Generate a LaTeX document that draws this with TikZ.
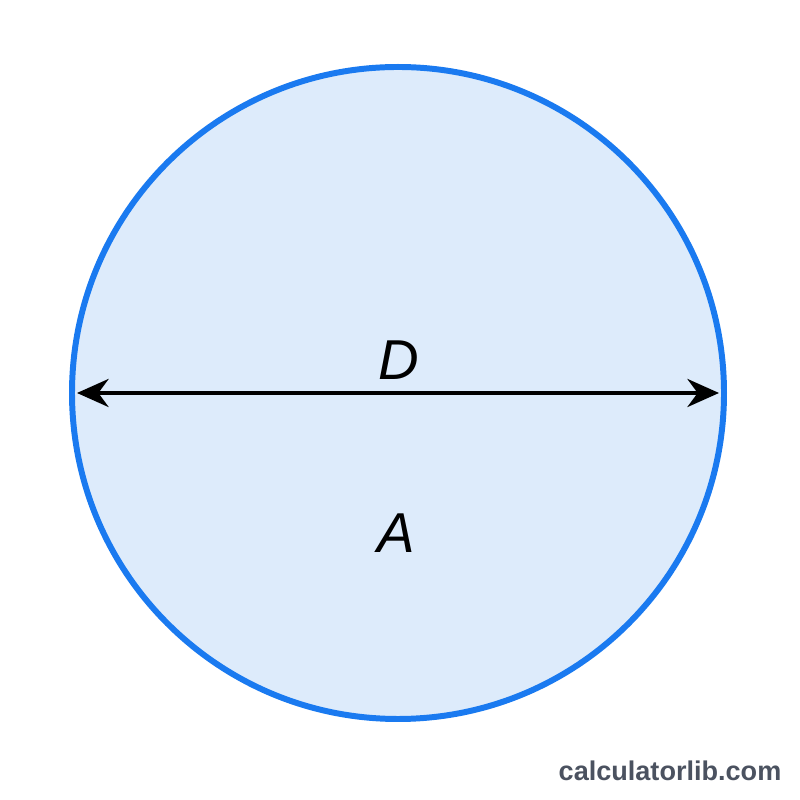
\documentclass[tikz,border=0pt]{standalone}
\usepackage{fontspec}
\setmainfont{Liberation Sans}
\usetikzlibrary{arrows.meta}
\definecolor{discfill}{HTML}{DDEBFB}
\definecolor{discline}{HTML}{1A7AF0}
\definecolor{markgray}{HTML}{4B5260}
\tikzset{
  disc/.style={fill=discfill, draw=discline, line width=1.7pt},
  diameter/.style={line width=1pt, {Stealth[length=9pt,width=8pt]}-{Stealth[length=9pt,width=8pt]}},
  letter/.style={anchor=base, font=\fontsize{16}{19}\selectfont\itshape}
}
\begin{document}
\begin{tikzpicture}
        \useasboundingbox[fill=white] (0, 0) rectangle (8, 8);

        % the disc and its diameter
        \filldraw[disc] (3.98, 4.07) circle (3.26);
        \coordinate (west) at (0.77, 4.07);
        \coordinate (east) at (7.19, 4.07);
        \draw[diameter] (west) -- (east);

        \node[letter] (dlabel) at (3.99, 4.20) {D};
        \node[letter] (alabel) at (3.96, 2.47) {A};

        \node[anchor=base east, inner sep=0pt, text=markgray, font=\fontsize{7.7}{9}\selectfont\bfseries] (mark) at (7.82, 0.20) {calculatorlib.com};
      \end{tikzpicture}
\end{document}
